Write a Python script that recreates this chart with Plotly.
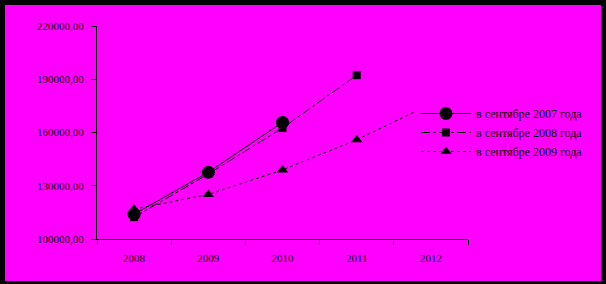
import plotly.graph_objects as go

years = ["2008", "2009", "2010", "2011", "2012"]
s2007 = [114000, 137600, 165700, None, None]
s2008 = [112300, 136600, 162500, 192300, None]
s2009 = [116800, 125100, 138900, 155900, 176000]
names = ["в сентябре 2007 года", "в сентябре 2008 года", "в сентябре 2009 года"]
y_ticks = [100000, 130000, 160000, 190000, 220000]

W, H = 606, 284
L, R, T, B = 97, 138, 26, 45
pw, ph = W - L - R, H - T - B

fig = go.Figure()
fig.add_trace(go.Scatter(x=years, y=s2007, name=names[0], mode="lines+markers",
                         line=dict(color="black", width=1, dash="solid"),
                         marker=dict(symbol="circle", size=13, color="black")))
fig.add_trace(go.Scatter(x=years, y=s2008, name=names[1], mode="lines+markers",
                         line=dict(color="black", width=1, dash="dashdot"),
                         marker=dict(symbol="square", size=8, color="black")))
fig.add_trace(go.Scatter(x=years, y=s2009, name=names[2], mode="lines+markers",
                         line=dict(color="black", width=1, dash="dot"),
                         marker=dict(symbol="triangle-up", size=10, color="black")))

def px_x(p):
    return (p - L) / pw

def px_y(p):
    return (H - B - p) / ph

fig.add_shape(type="rect", xref="paper", yref="paper", layer="below",
              x0=px_x(5), x1=px_x(601), y0=px_y(281), y1=px_y(5),
              fillcolor="#FF00FF", line=dict(width=0))

fig.update_layout(
    width=W, height=H,
    margin=dict(l=L, r=R, t=T, b=B, pad=0),
    paper_bgcolor="black",
    plot_bgcolor="rgba(0,0,0,0)",
    font=dict(family="Liberation Serif", size=11, color="black"),
    separators=",.",
    showlegend=True,
    legend=dict(x=px_x(416), y=px_y(99), xanchor="left", yanchor="top",
                bgcolor="#FF00FF", borderwidth=0,
                font=dict(family="Liberation Serif", size=12, color="black"),
                itemwidth=50, tracegroupgap=0),
    xaxis=dict(type="category", categoryorder="array", categoryarray=years,
               range=[-0.5, 4.5], showline=True, linecolor="black", linewidth=1,
               showgrid=False, zeroline=False, ticks="outside", ticklen=5,
               tickcolor="black", tickson="boundaries", ticklabelstandoff=9,
               tickfont=dict(family="Liberation Serif", size=11, color="black")),
    yaxis=dict(range=[100000, 220000], tickvals=y_ticks, tickformat=".2f",
               showline=True, linecolor="black", linewidth=1, showgrid=False,
               zeroline=False, ticks="outside", ticklen=5, tickcolor="black",
               ticklabelstandoff=5,
               tickfont=dict(family="Liberation Serif", size=11, color="black")),
)

fig.write_html("out.html")
